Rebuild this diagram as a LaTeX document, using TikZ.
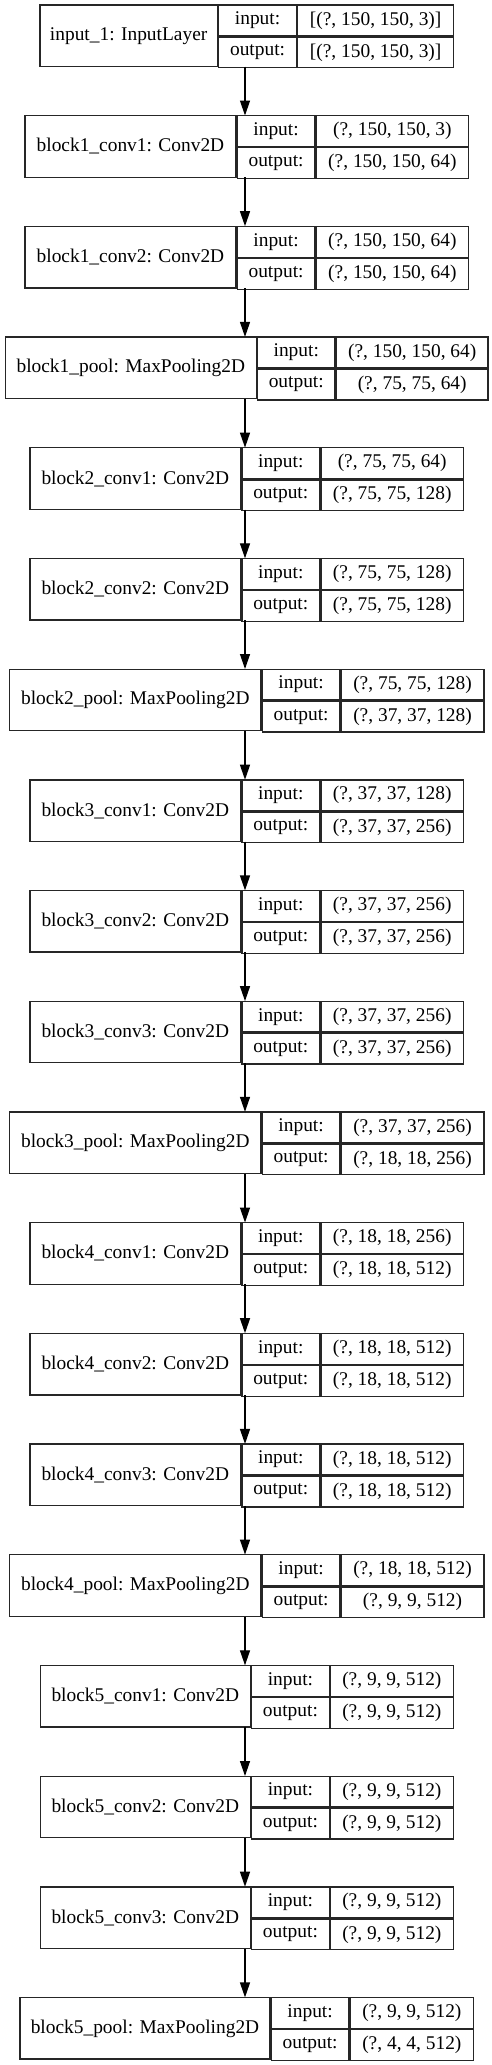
\documentclass[tikz,border=0pt]{standalone}
\usepackage{fontspec}
\setmainfont{Liberation Serif}
\usetikzlibrary{arrows.meta,positioning}

\begin{document}
\begin{tikzpicture}[
  x=1pt, y=-1pt,
  font=\fontsize{19.4}{23}\selectfont,
  layer/.style={rectangle, inner sep=0pt, minimum height=61.5pt},
  cell/.style={rectangle, draw=black!85, line width=1.3pt, inner sep=0pt, minimum height=30.75pt},
  labcell/.style={cell, minimum height=61.5pt},
  iocell/.style={cell, minimum width=77.6pt},
  flow/.style={-{Triangle[length=15pt,width=10pt]}, line width=1.3pt, color=black},
]
\useasboundingbox (0,0) rectangle (491,2065);

% one row per layer: name/row/label width/shape width/label/input shape/output shape
\foreach \nm/\k/\lw/\rw/\lab/\shin/\shout in {
  in1/0/177.6/156/{input\_1: InputLayer}/{[(?, 150, 150, 3)]}/{[(?, 150, 150, 3)]},
  b1c1/1/211/152.4/{block1\_conv1: Conv2D}/{(?, 150, 150, 3)}/{(?, 150, 150, 64)},
  b1c2/2/211/152.4/{block1\_conv2: Conv2D}/{(?, 150, 150, 64)}/{(?, 150, 150, 64)},
  b1p/3/250.7/151.7/{block1\_pool: MaxPooling2D}/{(?, 150, 150, 64)}/{(?, 75, 75, 64)},
  b2c1/4/210.7/142.7/{block2\_conv1: Conv2D}/{(?, 75, 75, 64)}/{(?, 75, 75, 128)},
  b2c2/5/210.7/142.7/{block2\_conv2: Conv2D}/{(?, 75, 75, 128)}/{(?, 75, 75, 128)},
  b2p/6/251.4/142.7/{block2\_pool: MaxPooling2D}/{(?, 75, 75, 128)}/{(?, 37, 37, 128)},
  b3c1/7/210.7/142.7/{block3\_conv1: Conv2D}/{(?, 37, 37, 128)}/{(?, 37, 37, 256)},
  b3c2/8/210.7/142.7/{block3\_conv2: Conv2D}/{(?, 37, 37, 256)}/{(?, 37, 37, 256)},
  b3c3/9/210.7/142.7/{block3\_conv3: Conv2D}/{(?, 37, 37, 256)}/{(?, 37, 37, 256)},
  b3p/10/251.4/142.7/{block3\_pool: MaxPooling2D}/{(?, 37, 37, 256)}/{(?, 18, 18, 256)},
  b4c1/11/210.7/142.7/{block4\_conv1: Conv2D}/{(?, 18, 18, 256)}/{(?, 18, 18, 512)},
  b4c2/12/210.7/142.7/{block4\_conv2: Conv2D}/{(?, 18, 18, 512)}/{(?, 18, 18, 512)},
  b4c3/13/210.7/142.7/{block4\_conv3: Conv2D}/{(?, 18, 18, 512)}/{(?, 18, 18, 512)},
  b4p/14/251.4/142.7/{block4\_pool: MaxPooling2D}/{(?, 18, 18, 512)}/{(?, 9, 9, 512)},
  b5c1/15/210/122.7/{block5\_conv1: Conv2D}/{(?, 9, 9, 512)}/{(?, 9, 9, 512)},
  b5c2/16/210/122.7/{block5\_conv2: Conv2D}/{(?, 9, 9, 512)}/{(?, 9, 9, 512)},
  b5c3/17/210/122.7/{block5\_conv3: Conv2D}/{(?, 9, 9, 512)}/{(?, 9, 9, 512)},
  b5p/18/250/123.3/{block5\_pool: MaxPooling2D}/{(?, 9, 9, 512)}/{(?, 4, 4, 512)}%
} {
  \pgfmathsetmacro\yc{35.75+110.7*\k}
  \pgfmathsetmacro\tw{\lw+77.6+\rw}
  \node[layer, minimum width=\tw pt] (\nm) at (245,\yc) {};
  \node[labcell, minimum width=\lw pt, anchor=west] (\nm-l) at (\nm.west) {\lab};
  \node[iocell, anchor=north west] (\nm-i) at (\nm-l.north east) {input:};
  \node[iocell, anchor=north west] (\nm-o) at (\nm-i.south west) {output:};
  \node[cell, minimum width=\rw pt, anchor=north west] (\nm-si) at (\nm-i.north east) {\shin};
  \node[cell, minimum width=\rw pt, anchor=north west] (\nm-so) at (\nm-si.south west) {\shout};
}

% data flow
\foreach \a/\b in {in1/b1c1,b1c1/b1c2,b1c2/b1p,b1p/b2c1,b2c1/b2c2,b2c2/b2p,b2p/b3c1,b3c1/b3c2,b3c2/b3c3,b3c3/b3p,b3p/b4c1,b4c1/b4c2,b4c2/b4c3,b4c3/b4p,b4p/b5c1,b5c1/b5c2,b5c2/b5c3,b5c3/b5p} {\draw[flow] (\a.south) -- (\b.north);}

\end{tikzpicture}
\end{document}
